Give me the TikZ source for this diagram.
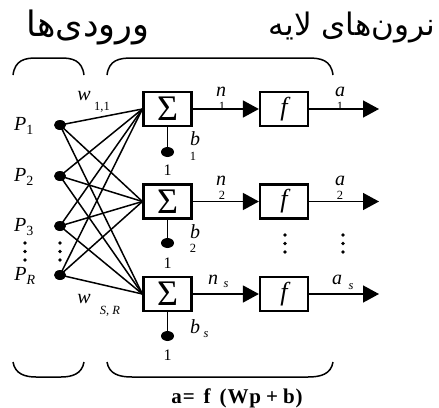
\documentclass[tikz,border=0pt]{standalone}
\usepackage{fontspec}
\setmainfont{Liberation Serif}
\newfontfamily\fa[Script=Arabic]{DejaVu Sans}
\TeXXeTstate=1
\usetikzlibrary{arrows.meta,shapes.geometric}
\begin{document}
\begin{tikzpicture}[x=1pt,y=-1pt,
  boxnode/.style={draw, line width=2.2pt, minimum width=48pt, minimum height=34pt, inner sep=0pt},
  inp/.style={ellipse, fill, inner sep=0pt, minimum width=12pt, minimum height=10pt},
  biasdot/.style={ellipse, fill, minimum width=13pt, minimum height=10pt, inner sep=0pt},
  wire/.style={line width=1.5pt},
  arr/.style={wire, -{Triangle[length=16pt,width=17pt]}},
  lbl/.style={font=\fontsize{20}{20}\selectfont\itshape, inner sep=0pt},
  sub/.style={font=\fontsize{12.5}{12.5}\selectfont\itshape, inner sep=0pt},
  onel/.style={font=\fontsize{16}{16}\selectfont, inner sep=0pt},
  brace/.style={line width=1.5pt},
  vdots/.style={fill, circle, inner sep=0pt, minimum size=3.8pt}]
\useasboundingbox (0,0) rectangle (439,407);

% headings
\node[font=\fontsize{35}{36}\selectfont, inner sep=0pt] (hin) at (88,27) {\fa\beginR ورودی‌ها\endR};
\node[font=\fontsize{31}{32}\selectfont, inner sep=0pt] (hla) at (352,28) {\fa\beginR نرون‌های لایه\endR};

% braces
\draw[brace] (13,75) .. controls (15,60) and (25,58) .. (36,58) -- (61,58) .. controls (72,58) and (82,60) .. (84,75);
\draw[brace] (107,75) .. controls (109,60) and (119,58) .. (132,58) -- (308,58) .. controls (321,58) and (331,60) .. (333,75);
\draw[brace] (13,362) .. controls (15,374) and (25,377) .. (36,377) -- (61,377) .. controls (72,377) and (82,374) .. (84,362);
\draw[brace] (107,362) .. controls (109,374) and (119,377) .. (132,377) -- (308,377) .. controls (321,377) and (331,374) .. (333,362);

% sum boxes and f boxes
\node[boxnode] (s1) at (167.5,109) {\fontsize{36}{36}\selectfont Σ};
\node[boxnode] (s2) at (167.5,201.5) {\fontsize{36}{36}\selectfont Σ};
\node[boxnode] (s3) at (167.5,294) {\fontsize{36}{36}\selectfont Σ};
\node[boxnode] (f1) at (284,109) {\fontsize{26}{26}\selectfont\itshape f};
\node[boxnode] (f2) at (284,201.5) {\fontsize{26}{26}\selectfont\itshape f};
\node[boxnode] (f3) at (284,294) {\fontsize{26}{26}\selectfont\itshape f};
\coordinate (o1) at (379,109);
\coordinate (o2) at (379,201.5);
\coordinate (o3) at (379,294);

% inputs
\node[inp] (p1) at (60,125) {};
\node[inp] (p2) at (60,176) {};
\node[inp] (p3) at (60,226) {};
\node[inp] (pR) at (60,275) {};
\node[lbl] (lp1) at (24,126) {P\textsubscript{\upshape 1}};
\node[lbl] (lp2) at (24,177) {P\textsubscript{\upshape 2}};
\node[lbl] (lp3) at (24,227) {P\textsubscript{\upshape 3}};
\node[lbl] (lpR) at (25,276) {P\textsubscript{R}};

% weights
\foreach \i in {p1,p2,p3,pR}
  \foreach \j in {s1,s2,s3}
    \draw[wire] (\i.center) -- (\j.west);

\node[lbl] (w11) at (84,96) {w};
\node[sub] (w11s) at (102,107) {\upshape 1,1};
\node[lbl] (wSR) at (84,299) {w};
\node[sub] (wSRs) at (110,311) {S, R};

% bias
\node[biasdot] (b1) at (167.5,152) {};
\node[biasdot] (b2) at (167.5,243) {};
\node[biasdot] (b3) at (167.5,336) {};
\draw[wire] (s1.south) -- (b1.center);
\draw[wire] (s2.south) -- (b2.center);
\draw[wire] (s3.south) -- (b3.center);
\node[lbl] (lb1) at (195,139) {b};
\node[sub] (lb1s) at (193,156) {\upshape 1};
\node[lbl] (lb2) at (195,232) {b};
\node[sub] (lb2s) at (193,248) {\upshape 2};
\node[lbl] (lb3) at (195,327) {b};
\node[sub] (lb3s) at (206,335) {s};
\node[onel] (one1) at (167.5,170) {1};
\node[onel] (one2) at (167.5,263) {1};
\node[onel] (one3) at (167.5,355) {1};

% arrows
\draw[arr] (s1.east) -- (f1.west);
\draw[arr] (s2.east) -- (f2.west);
\draw[arr] (s3.east) -- (f3.west);
\draw[arr] (f1.east) -- (o1);
\draw[arr] (f2.east) -- (o2);
\draw[arr] (f3.east) -- (o3);

% n and a labels
\node[lbl] (n1) at (221,92) {n};
\node[sub] (n1s) at (222,106) {\upshape 1};
\node[lbl] (a1) at (340,92) {a};
\node[sub] (a1s) at (340,106) {\upshape 1};
\node[lbl] (n2) at (221,181) {n};
\node[sub] (n2s) at (222,195) {\upshape 2};
\node[lbl] (a2) at (340,181) {a};
\node[sub] (a2s) at (340,195) {\upshape 2};
\node[lbl] (n3) at (213,280) {n};
\node[sub] (n3s) at (226,285) {s};
\node[lbl] (a3) at (337,280) {a};
\node[sub] (a3s) at (351,287) {s};

% vertical dots
\foreach \x/\nm in {25/l, 60/m}{
  \node[vdots] (\nm d1) at (\x,243) {};
  \node[vdots] (\nm d2) at (\x,251.5) {};
  \node[vdots] (\nm d3) at (\x,260) {};
}
\foreach \x/\nm in {285/f, 343/a}{
  \node[vdots] (\nm d1) at (\x,235) {};
  \node[vdots] (\nm d2) at (\x,243.5) {};
  \node[vdots] (\nm d3) at (\x,252) {};
}

% formula
\node[font=\fontsize{21}{21}\selectfont\bfseries, inner sep=0pt] (form) at (237,398) {\addfontfeature{LetterSpace=4}a=\hspace{9pt}f\hspace{9pt}(Wp\hspace{5pt}+\hspace{5pt}b)};
\end{tikzpicture}
\end{document}
